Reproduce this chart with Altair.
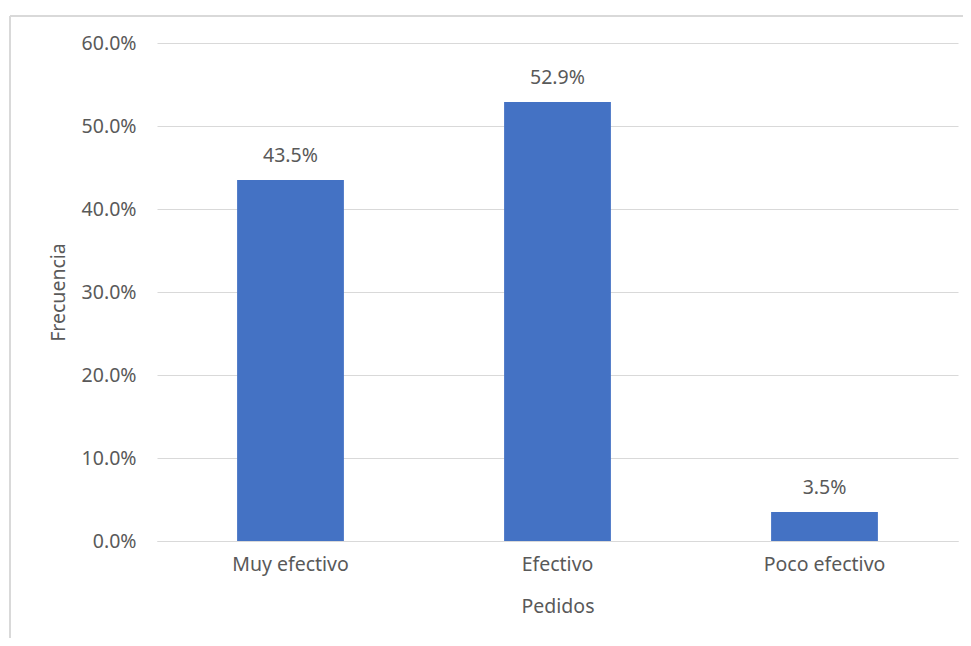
import altair as alt
import pandas as pd

categories = ["Muy efectivo", "Efectivo", "Poco efectivo"]
values = [0.435, 0.529, 0.035]
y_ticks = [0.0, 0.1, 0.2, 0.3, 0.4, 0.5, 0.6]

df = pd.DataFrame({"Pedidos": categories, "Frecuencia": values})

FONT = "Noto Sans"
GREY = "#595959"
GRID = "#D9D9D9"

x_enc = alt.X(
    "Pedidos:N",
    sort=categories,
    scale=alt.Scale(paddingInner=0.6, paddingOuter=0.3),
    axis=alt.Axis(
        title="Pedidos",
        labelAngle=0,
        labelPadding=14,
        ticks=False,
        domainColor=GRID,
        domainWidth=1,
        titleY=65,
        titleBaseline="middle",
    ),
)
y_enc = alt.Y(
    "Frecuencia:Q",
    scale=alt.Scale(domain=[0, 0.6], nice=False),
    axis=alt.Axis(
        title="Frecuencia",
        format=".1%",
        values=y_ticks,
        ticks=False,
        domain=False,
        gridColor=GRID,
        labelPadding=21,
        titleX=-99,
        titleBaseline="middle",
    ),
)

bars = alt.Chart(df).mark_bar(color="#4472C4").encode(x=x_enc, y=y_enc)
labels = alt.Chart(df).mark_text(
    font=FONT, fontSize=19.5, color=GREY, baseline="middle", dy=-24
).encode(x=alt.X("Pedidos:N", sort=categories), y="Frecuencia:Q", text=alt.Text("Frecuencia:Q", format=".1%"))

frame_data = alt.Data(values=[{"a": 1}])
left_line = alt.Chart(frame_data).mark_rule(color=GRID, strokeWidth=2).encode(
    x=alt.value(-147), y=alt.value(-27), y2=alt.value(700)
)
top_line = alt.Chart(frame_data).mark_rule(color=GRID, strokeWidth=2).encode(
    x=alt.value(-147), x2=alt.value(900), y=alt.value(-27)
)

chart = (
    alt.layer(left_line, top_line, bars, labels)
    .properties(
        width=801,
        height=498,
        autosize=alt.AutoSizeParams(type="none"),
        padding={"left": 149, "top": 35, "right": 5, "bottom": 97},
        background="white",
    )
    .configure_view(stroke=None)
    .configure_axis(
        labelFont=FONT,
        titleFont=FONT,
        labelFontSize=19.5,
        titleFontSize=19.5,
        labelColor=GREY,
        titleColor=GREY,
        titleFontWeight="normal",
    )
)

chart.save("out.html", embed_options={"renderer": "svg", "actions": False})
